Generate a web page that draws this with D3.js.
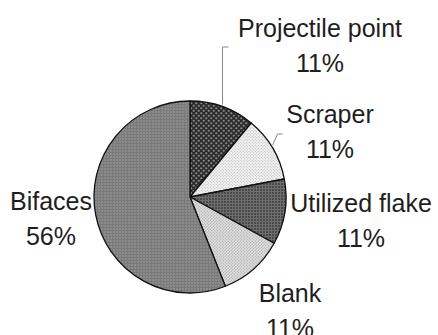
<!DOCTYPE html>
<html>
<head>
<meta charset="utf-8">
<script src="https://cdn.jsdelivr.net/npm/d3@7/dist/d3.min.js"></script>
<style>
  body { margin: 0; background: #fff; }
  svg { display: block; }
  text { font-family: "Liberation Sans", Arial, sans-serif; fill: #1e1e1e; }
</style>
</head>
<body>
<svg width="438" height="335"></svg>
<script>
// data, clockwise from 12 o'clock
const categories = ["Projectile point", "Scraper", "Utilized flake", "Blank", "Bifaces"];
const percents = [11, 11, 11, 11, 56];

// layout
const width = 438;
const height = 335;
const cx = 190;
const cy = 197;
const radius = 96;
const fontSize = 25;
const lineGap = 35;
// label centre x / first baseline y for each slice
const labelPos = [
  [320, 37],
  [330, 123],
  [361, 212],
  [290, 302],
  [51, 210]
];

const svg = d3.select("svg");

// fill patterns that imitate the scanned textures
const defs = svg.append("defs");

const addDots = (id, bg, dot, step, r) => {
  const p = defs.append("pattern")
    .attr("id", id)
    .attr("patternUnits", "userSpaceOnUse")
    .attr("width", step)
    .attr("height", step);
  p.append("rect").attr("width", step).attr("height", step).attr("fill", bg);
  p.append("circle").attr("cx", step / 4).attr("cy", step / 4).attr("r", r).attr("fill", dot);
  p.append("circle").attr("cx", step * 3 / 4).attr("cy", step * 3 / 4).attr("r", r).attr("fill", dot);
};

const addGrid = (id, bg, line, step) => {
  const p = defs.append("pattern")
    .attr("id", id)
    .attr("patternUnits", "userSpaceOnUse")
    .attr("width", step)
    .attr("height", step);
  p.append("rect").attr("width", step).attr("height", step).attr("fill", bg);
  p.append("rect").attr("width", step).attr("height", 1).attr("fill", line);
  p.append("rect").attr("width", 1).attr("height", step).attr("fill", line);
};

addDots("pat-proj", "#2c2c2c", "#8a8a8a", 5, 1.1);
addDots("pat-scraper", "#f2f2f2", "#b4b4b4", 3, 0.6);
addGrid("pat-flake", "#4a4a4a", "#6e6e6e", 3);
addDots("pat-blank", "#dedede", "#b0b0b0", 3, 0.7);
addGrid("pat-bifaces", "#8c8c8c", "#7a7a7a", 3);

const fills = ["url(#pat-proj)", "url(#pat-scraper)", "url(#pat-flake)", "url(#pat-blank)", "url(#pat-bifaces)"];

const pie = d3.pie().sort(null).value((d) => d);
const arcs = pie(percents);
const arc = d3.arc().innerRadius(0).outerRadius(radius);

const g = svg.append("g").attr("transform", `translate(${cx},${cy})`);

g.selectAll("path")
  .data(arcs)
  .enter()
  .append("path")
  .attr("d", arc)
  .attr("fill", (d, i) => fills[i])
  .attr("stroke", "#111")
  .attr("stroke-width", 1.3)
  .attr("stroke-linejoin", "round");

// leader lines for the two upper labels
const edgePoint = (d) => {
  const a = (d.startAngle + d.endAngle) / 2;
  return [cx + radius * Math.sin(a), cy - radius * Math.cos(a)];
};

const leader = svg.append("g")
  .attr("fill", "none")
  .attr("stroke", "#8a8a8a")
  .attr("stroke-width", 1);

const p0 = edgePoint(arcs[0]);
leader.append("path")
  .attr("d", d3.line()([[p0[0], p0[1] - 2], [p0[0], 47], [p0[0] + 6, 47]]));

const p1 = edgePoint(arcs[1]);
leader.append("path")
  .attr("d", d3.line()([[p1[0], p1[1] - 3], [p1[0] + 5, 134], [p1[0] + 10, 134]]));

// labels
const labels = svg.append("g")
  .attr("font-size", fontSize)
  .attr("text-anchor", "middle");

categories.forEach((c, i) => {
  const [x, y] = labelPos[i];
  labels.append("text").attr("x", x).attr("y", y).text(c);
  labels.append("text").attr("x", x).attr("y", y + lineGap).text(percents[i] + "%");
});
</script>
</body>
</html>
